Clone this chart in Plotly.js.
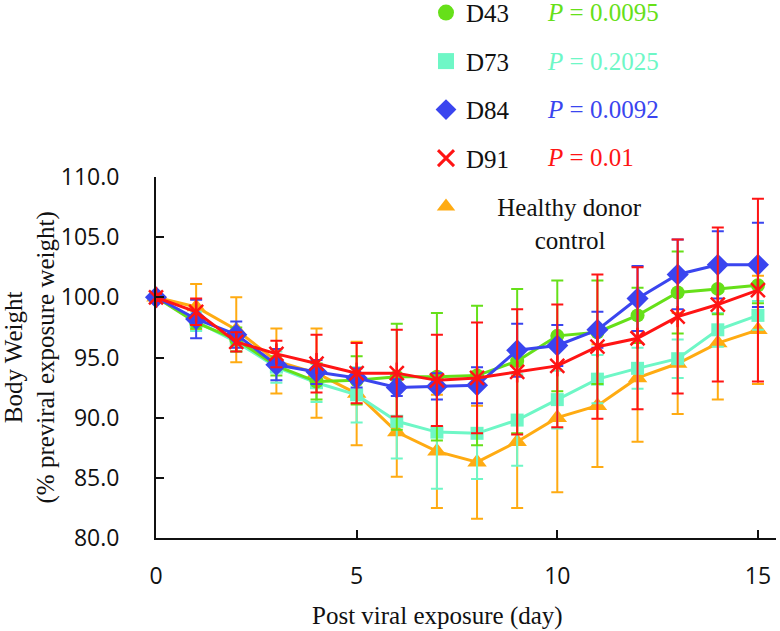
<!DOCTYPE html>
<html>
<head>
<meta charset="utf-8">
<script src="https://cdn.plot.ly/plotly-3.0.1.min.js"></script>
<style>html,body{margin:0;padding:0;background:#fff;}#chart{width:780px;height:631px;}</style>
</head>
<body>
<div id="chart"></div>
<script>
// ---- data ----
const days = [0,1,2,3,4,5,6,7,8,9,10,11,12,13,14,15];

const d43Mean = [100, 97.9, 96.5, 94.3, 93.0, 93.1, 93.4, 93.4, 93.5, 94.7, 96.8, 97.1, 98.5, 100.4, 100.7, 101.0];
const d43Sd   = [0.3, 0.5, 1.0, 0.8, 1.5, 2.0, 4.4, 5.3, 5.8, 6.0, 4.6, 4.3, 2.3, 3.4, 2.1, 1.5];

const d73Mean = [100, 98.0, 96.3, 94.2, 92.9, 91.9, 89.7, 88.8, 88.7, 89.8, 91.5, 93.2, 94.1, 94.9, 97.3, 98.5];
const d73Sd   = [0.3, 0.8, 0.8, 1.3, 1.6, 2.3, 3.1, 4.7, 3.8, 3.8, 2.4, 2.0, 1.7, 1.6, 1.4, 1.2];

const d84Mean = [100, 98.2, 96.9, 94.4, 93.8, 93.3, 92.5, 92.6, 92.7, 95.6, 96.0, 97.3, 99.9, 101.9, 102.7, 102.7];
const d84Sd   = [0.3, 1.6, 1.1, 1.3, 1.0, 0.8, 0.7, 1.1, 1.5, 2.2, 1.7, 1.5, 2.7, 2.9, 2.8, 3.5];

const d91Mean = [100, 98.8, 96.3, 95.3, 94.5, 93.7, 93.7, 93.1, 93.3, 93.8, 94.3, 95.9, 96.6, 98.4, 99.4, 100.6];
const d91Sd   = [0.3, 1.1, 0.8, 1.1, 2.4, 2.5, 3.6, 3.8, 4.6, 5.2, 5.1, 6.0, 5.9, 6.4, 6.4, 7.6];

const ctrlMean = [100, 99.2, 97.3, 94.7, 93.7, 92.0, 88.8, 87.2, 86.3, 88.0, 90.0, 91.0, 93.3, 94.5, 96.2, 97.3];
const ctrlSd   = [0.4, 1.9, 2.7, 2.7, 3.7, 4.3, 3.7, 4.7, 4.7, 5.5, 6.2, 5.1, 5.3, 4.2, 4.7, 4.5];

const seriesNames = ["D43", "D73", "D84", "D91", "\u00a0\u00a0\u00a0\u00a0\u00a0Healthy donor<br>\u00a0\u00a0\u00a0\u00a0\u00a0\u00a0\u00a0\u00a0\u00a0\u00a0\u00a0control"];
const pLabels = ["0.0095", "0.2025", "0.0092", "0.01"];

const xTickVals = [0, 5, 10, 15];
const xTitle = "Post viral exposure (day)";
const yTitle = "Body Weight<br>(% previral exposure weight)";

// ---- styles ----
const cGreen = "#66e019", cTeal = "#6ef7c6", cBlue = "#3a45ef", cRed = "#ff1414", cOrange = "#ffab12";
const serif = "Liberation Serif, Times New Roman, serif";
const sans = "Open Sans, Noto Sans, sans-serif";

function series(y, sd, color, symbol, size, extra) {
  return Object.assign({
    x: days, y: y, type: "scatter", mode: "lines+markers", showlegend: false, cliponaxis: false,
    line: {color: color, width: 3},
    marker: {color: color, symbol: symbol, size: size},
    error_y: {type: "data", array: sd, visible: true, color: color, thickness: 2, width: 6}
  }, extra || {});
}

const traces = [
  series(ctrlMean, ctrlSd, cOrange, "triangle-up", 17),
  series(d73Mean, d73Sd, cTeal, "square", 13),
  series(d43Mean, d43Sd, cGreen, "circle", 14),
  series(d84Mean, d84Sd, cBlue, "diamond", 17),
  series(d91Mean, d91Sd, cRed, "x-thin-open", 14, {marker: {color: cRed, symbol: "x-thin-open", size: 14, line: {color: cRed, width: 2.5}}}),
  {x: days, y: d91Mean, type: "scatter", mode: "markers", showlegend: false, cliponaxis: false, hoverinfo: "skip",
   marker: {color: cRed, symbol: "line-ns-open", size: 15, line: {color: cRed, width: 2.5}}}
];

// legend-only entries (marker only, like the reference legend)
const legendDefs = [
  [cGreen, "circle", 18], [cTeal, "square", 17], [cBlue, "diamond", 18], [cRed, "x-thin-open", 16], [cOrange, "triangle-up", 18]
];
legendDefs.forEach(function (d, i) {
  const m = {color: d[0], symbol: d[1], size: d[2]};
  if (d[1] === "x-thin-open") m.line = {color: d[0], width: 3};
  traces.push({x: [null], y: [null], type: "scatter", mode: "markers", name: seriesNames[i],
    legendgroup: "g" + i, showlegend: true, marker: m});
});

const plotTop = 177, plotBottom = 537.7, plotH = plotBottom - plotTop;
function py(p) { return (plotBottom - p) / plotH; }
const pColors = [cGreen, cTeal, cBlue, cRed];
const pRows = [13, 62, 110, 158];

const annotations = pLabels.map(function (t, i) {
  return {text: "<i>P</i> = " + t, xref: "paper", yref: "paper", x: (545 - 156) / 620, y: py(pRows[i]),
    xanchor: "left", yanchor: "middle", showarrow: false, font: {family: serif, size: 25, color: pColors[i]}};
});
annotations.push({text: xTitle, xref: "paper", yref: "paper", x: (437 - 156) / 620, y: py(616),
  xanchor: "center", yanchor: "middle", showarrow: false, font: {family: serif, size: 25, color: "#111"}});
annotations.push({text: yTitle, xref: "paper", yref: "paper", x: (30 - 156) / 620, y: 0.5, textangle: -90,
  xanchor: "center", yanchor: "middle", showarrow: false, font: {family: serif, size: 25, color: "#111"}});

const layout = {
  width: 780, height: 631,
  margin: {l: 156, r: 4, t: 177, b: 93.3, pad: 0, autoexpand: false},
  paper_bgcolor: "#fff", plot_bgcolor: "#fff",
  showlegend: true,
  legend: {x: (426 - 156) / 620, y: py(-10), xanchor: "left", yanchor: "top", traceorder: "grouped",
    tracegroupgap: 13, valign: "top", font: {family: serif, size: 25, color: "#111"}, bgcolor: "rgba(0,0,0,0)"},
  xaxis: {range: [0, 15.45], tickvals: xTickVals, ticks: "inside", ticklen: 8, tickwidth: 2, tickcolor: "#111",
    showline: true, linewidth: 2, linecolor: "#111", showgrid: false, zeroline: false, ticklabelstandoff: 16,
    automargin: false, tickfont: {family: sans, size: 23, color: "#111"}},
  yaxis: {range: [80, 110], dtick: 5, tick0: 80, tickformat: ".1f", ticks: "inside", ticklen: 8, tickwidth: 2, tickcolor: "#111",
    showline: true, linewidth: 2, linecolor: "#111", showgrid: false, zeroline: false, ticklabelstandoff: 30,
    automargin: false, tickfont: {family: sans, size: 23, color: "#111"}},
  annotations: annotations
};

Plotly.newPlot("chart", traces, layout, {displayModeBar: false, staticPlot: true});
</script>
</body>
</html>
